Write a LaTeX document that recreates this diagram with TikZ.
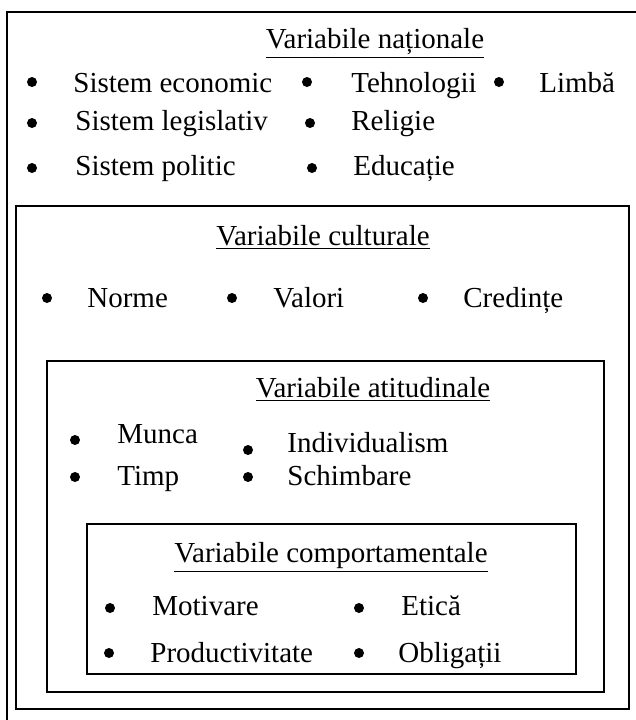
\documentclass[tikz,border=0pt]{standalone}
\usepackage{fontspec}
\setmainfont{Liberation Serif}
\usetikzlibrary{positioning}
\tikzstyle{framebox} = [draw=black, line width=0.8pt]
\tikzstyle{bul} = [circle, fill=black, inner sep=0pt, minimum size=5pt]
\tikzstyle{item} = [anchor=base west, inner sep=0pt,
  font=\fontsize{14.5}{17}\selectfont]
\tikzstyle{heading} = [anchor=base, inner sep=0pt,
  font=\fontsize{14.5}{17}\selectfont]

\begin{document}
\begin{tikzpicture}[x=0.5pt, y=-0.5pt]

  \useasboundingbox (0,0) rectangle (636,720);
  \clip (0,0) rectangle (636,720);

  % ── Frames ────────────────────────────────────────────
  \draw[framebox] (7,12) rectangle (680,760);
  \draw[framebox] (16,206) rectangle (629,709);
  \draw[framebox, line width=1.3pt] (47,361) rectangle (604,692);
  \draw[framebox, line width=1pt] (87,524) rectangle (576,674);

  % ── Variabile nationale ───────────────────────────────
  \node[heading] (nat) at (375,48) {\underline{Variabile naționale}};
  \node[bul] (bn1) at (32,82) {};
  \node[item] (econ) at (73,92) {Sistem economic};
  \node[bul] (bn2) at (307,82) {};
  \node[item] (tehno) at (351,92) {Tehnologii};
  \node[bul] (bn3) at (499,82) {};
  \node[item] (limba) at (539,92) {Limbă};
  \node[bul] (bn4) at (32,123) {};
  \node[item] (legis) at (75,130) {Sistem legislativ};
  \node[bul] (bn5) at (310,123) {};
  \node[item] (relig) at (351,130) {Religie};
  \node[bul] (bn6) at (32,168) {};
  \node[item] (polit) at (75,175) {Sistem politic};
  \node[bul] (bn7) at (312,168) {};
  \node[item] (educ) at (353,175) {Educație};

  % ── Variabile culturale ───────────────────────────────
  \node[heading] (cult) at (323,245) {\underline{Variabile culturale}};
  \node[bul] (bc1) at (47,298) {};
  \node[item] (norme) at (87,307) {Norme};
  \node[bul] (bc2) at (232,298) {};
  \node[item] (valori) at (273,307) {Valori};
  \node[bul] (bc3) at (423,298) {};
  \node[item] (cred) at (463,307) {Credințe};

  % ── Variabile atitudinale ─────────────────────────────
  \node[heading] (atit) at (373,397) {\underline{Variabile atitudinale}};
  \node[bul] (ba1) at (75,440) {};
  \node[item] (munca) at (117,443) {Munca};
  \node[bul] (ba2) at (248,450) {};
  \node[item] (indiv) at (287,452) {Individualism};
  \node[bul] (ba3) at (75,477) {};
  \node[item] (timp) at (117,485) {Timp};
  \node[bul] (ba4) at (248,477) {};
  \node[item] (schimb) at (287,485) {Schimbare};

  % ── Variabile comportamentale ─────────────────────────
  \node[heading] (comp) at (331,562) {\underline{Variabile comportamentale}};
  \node[bul] (bk1) at (110,608) {};
  \node[item] (motiv) at (152,615) {Motivare};
  \node[bul] (bk2) at (359,608) {};
  \node[item] (etica) at (401,615) {Etică};
  \node[bul] (bk3) at (109,653) {};
  \node[item] (prod) at (150,662) {Productivitate};
  \node[bul] (bk4) at (359,653) {};
  \node[item] (oblig) at (398,662) {Obligații};

\end{tikzpicture}
\end{document}
